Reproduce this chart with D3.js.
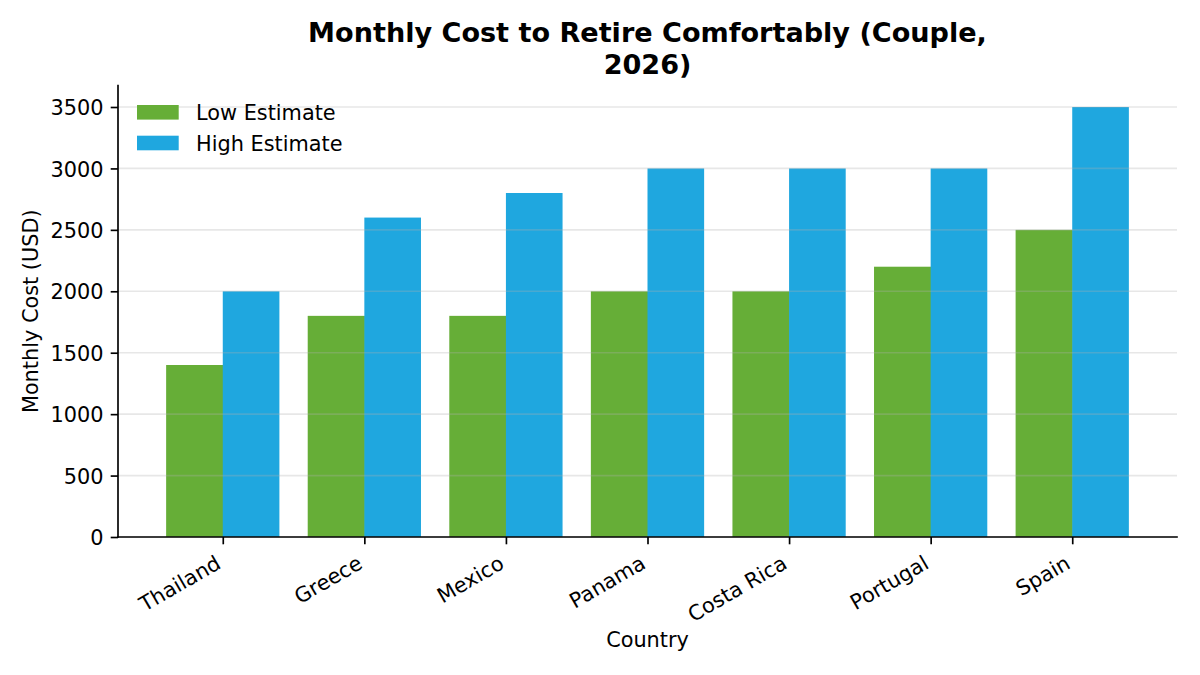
<!DOCTYPE html>
<html>
<head>
<meta charset="utf-8">
<script src="https://cdn.jsdelivr.net/npm/d3@7"></script>
<style>
  html, body { margin: 0; padding: 0; background: #fff; }
  svg { display: block; font-family: "DejaVu Sans", sans-serif; }
</style>
</head>
<body>
<svg id="chart" width="1200" height="675"></svg>
<script>
const countries = ["Thailand", "Greece", "Mexico", "Panama", "Costa Rica", "Portugal", "Spain"];
const lowEstimate = [1400, 1800, 1800, 2000, 2000, 2200, 2500];
const highEstimate = [2000, 2600, 2800, 3000, 3000, 3000, 3500];
const yTicks = [0, 500, 1000, 1500, 2000, 2500, 3000, 3500];
const seriesNames = ["Low Estimate", "High Estimate"];
const seriesColors = ["#66ae37", "#1fa7df"];
const titleLines = ["Monthly Cost to Retire Comfortably (Couple,", "2026)"];

const svg = d3.select("#chart");
const W = 1200, H = 675;
const mLeft = 118, mRight = 1177, mTop = 85.5, mBottom = 537;
const fs = 20.83;
const lw = 1.67;
const barW = 0.4;

const x = d3.scaleLinear().domain([-0.74, countries.length - 1 + 0.74]).range([mLeft, mRight]);
const yMax = d3.max(highEstimate) * 1.05;
const y = d3.scaleLinear().domain([0, yMax]).range([mBottom, mTop]);

svg.append("rect").attr("width", W).attr("height", H).attr("fill", "#fff");

// bars
const series = [lowEstimate, highEstimate];
series.forEach((vals, s) => {
  svg.append("g").selectAll("rect").data(vals).join("rect")
    .attr("x", (d, i) => x(i + (s === 0 ? -barW : 0)))
    .attr("width", (d, i) => x(i + barW) - x(i) + (s === 0 ? 0.6 : 0))
    .attr("y", d => y(d))
    .attr("height", d => y(0) - y(d))
    .attr("fill", seriesColors[s]);
});

// grid (drawn over bars, semi-transparent)
svg.append("g").selectAll("line").data(yTicks).join("line")
  .attr("x1", mLeft).attr("x2", mRight)
  .attr("y1", d => y(d)).attr("y2", d => y(d))
  .attr("stroke", "#b0b0b0").attr("stroke-opacity", 0.3).attr("stroke-width", lw);

// y axis
const yAxis = d3.axisLeft(y).tickValues(yTicks).tickSize(7.3).tickPadding(7.3).tickFormat(d3.format("d"));
const gy = svg.append("g").attr("transform", `translate(${mLeft},0)`).call(yAxis);
gy.select(".domain").remove();
gy.selectAll(".tick line").attr("stroke", "#000").attr("stroke-width", lw);
gy.selectAll(".tick text").attr("font-size", fs).attr("fill", "#000")
  .attr("font-family", "DejaVu Sans").attr("dy", "0.365em");

// x axis
const xAxis = d3.axisBottom(x).tickValues(d3.range(countries.length)).tickSize(7.3).tickFormat(i => countries[i]);
const gx = svg.append("g").attr("transform", `translate(0,${mBottom})`).call(xAxis);
gx.select(".domain").remove();
gx.selectAll(".tick line").attr("stroke", "#000").attr("stroke-width", lw);
const asc = 0.76 * fs, desc = 0.24 * fs;
gx.selectAll(".tick text")
  .attr("font-size", fs).attr("fill", "#000").attr("font-family", "DejaVu Sans")
  .attr("text-anchor", "end").attr("dy", null).attr("y", null)
  .attr("transform", `translate(${-0.5 * desc + 1.5},${7.3 + 7.3 + 0.866 * asc + 2}) rotate(-30)`);

// spines
svg.append("line").attr("x1", mLeft).attr("x2", mLeft).attr("y1", mTop).attr("y2", mBottom)
  .attr("stroke", "#000").attr("stroke-width", lw).attr("stroke-linecap", "square");
svg.append("line").attr("x1", mLeft).attr("x2", mRight).attr("y1", mBottom).attr("y2", mBottom)
  .attr("stroke", "#000").attr("stroke-width", lw).attr("stroke-linecap", "square");

// title
const cx = (mLeft + mRight) / 2;
svg.append("text").attr("x", cx).attr("y", 41.7).attr("text-anchor", "middle")
  .attr("font-size", 27.08).attr("font-weight", "bold").text(titleLines[0]);
svg.append("text").attr("x", cx).attr("y", 74).attr("text-anchor", "middle")
  .attr("font-size", 27.08).attr("font-weight", "bold").text(titleLines[1]);

// axis labels
svg.append("text").attr("x", cx).attr("y", 647).attr("text-anchor", "middle")
  .attr("font-size", fs).text("Country");
svg.append("text").attr("transform", `translate(38,${(mTop + mBottom) / 2}) rotate(-90)`)
  .attr("text-anchor", "middle").attr("font-size", fs).text("Monthly Cost (USD)");

// legend
const lg = svg.append("g");
seriesNames.forEach((name, i) => {
  const ly = 105 + i * 30.7;
  lg.append("rect").attr("x", 137).attr("y", ly).attr("width", 41.7).attr("height", 14.6)
    .attr("fill", seriesColors[i]);
  lg.append("text").attr("x", 196).attr("y", ly + 7.3 + 7.6).attr("font-size", fs).text(name);
});
</script>
</body>
</html>
